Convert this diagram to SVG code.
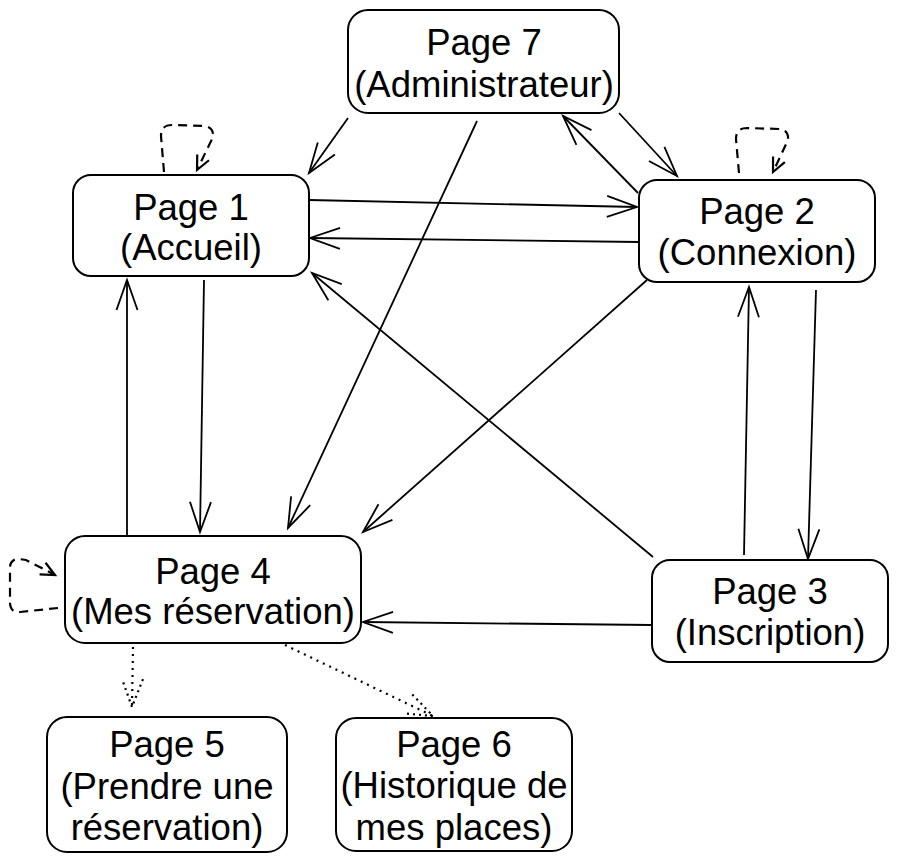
<svg xmlns="http://www.w3.org/2000/svg" width="898" height="863" viewBox="0 0 898 863">
<defs>
<style>
.box{fill:#fff;stroke:#000;stroke-width:2}
.t{font-family:"Liberation Sans",Arial,sans-serif;font-size:36.5px;text-anchor:middle;fill:#000}
.e{fill:none;stroke:#000;stroke-width:1.8}
.dash{stroke-width:2.2;stroke-dasharray:9 6}
.dot{stroke-width:2.2;stroke-dasharray:2 5}
</style>
<marker id="open" markerUnits="userSpaceOnUse" viewBox="-32 -12 34 24" refX="0" refY="0" markerWidth="34" markerHeight="24" orient="auto" overflow="visible">
<path d="M-30,-10.5 L0,0 L-30,10.5" fill="none" stroke="#000" stroke-width="1.8"/>
</marker>
<marker id="small" markerUnits="userSpaceOnUse" viewBox="-16 -8 18 16" refX="0" refY="0" markerWidth="18" markerHeight="16" orient="auto" overflow="visible">
<path d="M-14,-6.5 L0,0 L-14,6.5" fill="none" stroke="#000" stroke-width="2.2"/>
</marker>
<marker id="dotted" markerUnits="userSpaceOnUse" viewBox="-32 -12 34 24" refX="0" refY="0" markerWidth="34" markerHeight="24" orient="auto" overflow="visible">
<path d="M-28,-10.5 L0,0 L-28,10.5" fill="none" stroke="#000" stroke-width="2.2" stroke-dasharray="2 4"/>
</marker>
</defs>
<g id="connectors">
<line class="e" x1="348" y1="118" x2="309" y2="173" marker-end="url(#open)"/>
<line class="e" x1="477" y1="121" x2="288" y2="528" marker-end="url(#open)"/>
<line class="e" x1="619" y1="113" x2="677" y2="176" marker-end="url(#open)"/>
<line class="e" x1="638" y1="193" x2="563" y2="116" marker-end="url(#open)"/>
<line class="e" x1="309" y1="200" x2="637" y2="207" marker-end="url(#open)"/>
<line class="e" x1="639" y1="242" x2="310" y2="238" marker-end="url(#open)"/>
<line class="e" x1="204" y1="280" x2="200" y2="532" marker-end="url(#open)"/>
<line class="e" x1="127" y1="535" x2="127" y2="280" marker-end="url(#open)"/>
<line class="e" x1="647" y1="280" x2="363" y2="532" marker-end="url(#open)"/>
<line class="e" x1="653" y1="557" x2="312" y2="273" marker-end="url(#open)"/>
<line class="e" x1="744" y1="555" x2="749" y2="287" marker-end="url(#open)"/>
<line class="e" x1="816" y1="290" x2="808" y2="559" marker-end="url(#open)"/>
<line class="e" x1="652" y1="625" x2="363" y2="622" marker-end="url(#open)"/>
<path class="e dash" d="M164,172 L161,136 Q161,125 172,125 L204,126 Q214,127 213,137 L197,170" marker-end="url(#small)"/>
<path class="e dash" d="M739,173 L736,139 Q736,128 747,128 L779,129 Q789,130 788,140 L773,172" marker-end="url(#small)"/>
<path class="e dash" d="M58,608 L20,612 Q10,613 10,602 L10,568 Q10,559 19,559 L26,560 L55,575" marker-end="url(#small)"/>
<line class="e dot" x1="133" y1="647" x2="132" y2="707" marker-end="url(#dotted)"/>
<line class="e dot" x1="285" y1="645" x2="433" y2="716" marker-end="url(#dotted)"/>
</g>
<g id="page7">
<rect class="box" x="348" y="10" width="271" height="103" rx="20"/>
<text class="t" x="484" y="55">Page 7</text>
<text class="t" x="484" y="97">(Administrateur)</text>
</g>
<g id="page1">
<rect class="box" x="73" y="175" width="236" height="101" rx="18"/>
<text class="t" x="191" y="220">Page 1</text>
<text class="t" x="191" y="260">(Accueil)</text>
</g>
<g id="page2">
<rect class="box" x="639" y="180" width="236" height="102" rx="18"/>
<text class="t" x="757" y="224">Page 2</text>
<text class="t" x="757" y="265">(Connexion)</text>
</g>
<g id="page4">
<rect class="box" x="65" y="536" width="296" height="107" rx="20"/>
<text class="t" x="213" y="584">Page 4</text>
<text class="t" x="213" y="624">(Mes réservation)</text>
</g>
<g id="page3">
<rect class="box" x="652" y="560" width="236" height="102" rx="18"/>
<text class="t" x="770" y="604">Page 3</text>
<text class="t" x="770" y="645">(Inscription)</text>
</g>
<g id="page5">
<rect class="box" x="47" y="717" width="240" height="135" rx="20"/>
<text class="t" x="167" y="757">Page 5</text>
<text class="t" x="167" y="799">(Prendre une</text>
<text class="t" x="167" y="840">réservation)</text>
</g>
<g id="page6">
<rect class="box" x="336" y="718" width="236" height="133" rx="20"/>
<text class="t" x="454" y="757">Page 6</text>
<text class="t" x="454" y="798">(Historique de</text>
<text class="t" x="454" y="840">mes places)</text>
</g>
</svg>
